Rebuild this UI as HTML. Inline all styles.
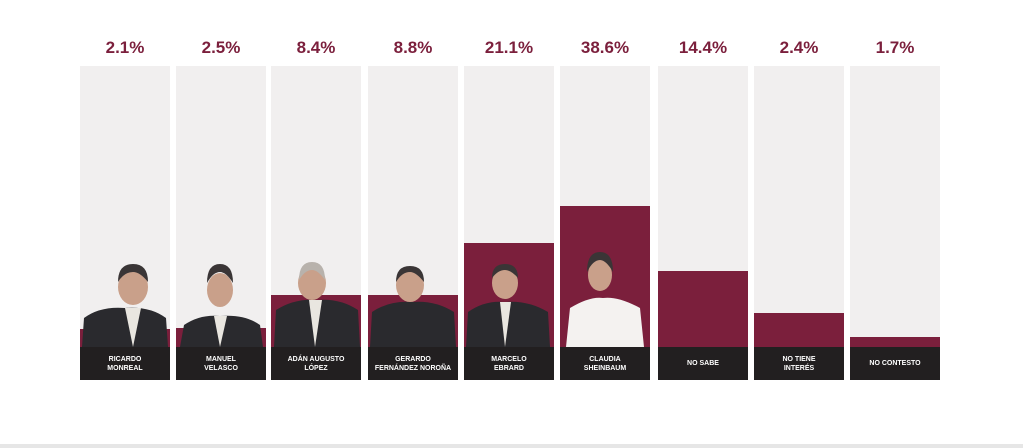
<!DOCTYPE html>
<html><head><meta charset="utf-8"><style>
body{margin:0;width:1023px;height:448px;background:#fff;overflow:hidden;position:relative;font-family:"Liberation Sans",sans-serif}
.col{position:absolute;top:66px;width:90px;height:281px;background:#f1efef}
.bar{position:absolute;left:0;right:0;bottom:0;background:#7b1f3c}
.lab{position:absolute;top:347px;width:90px;height:33px;background:#221f20;color:#fff;font-size:7px;font-weight:bold;display:flex;align-items:center;justify-content:center;text-align:center;line-height:9px}
.pct{position:absolute;top:38px;width:90px;text-align:center;color:#7b1f3c;font-weight:bold;font-size:17px}
.bot{position:absolute;left:0;right:0;top:444px;height:4px;background:#e6e6e6}
svg{position:absolute;left:0;top:0}
</style></head><body>
<div class="pct" style="left:80px">2.1%</div><div class="col" style="left:80px"><div class="bar" style="height:18px"></div></div><div class="lab" style="left:80px">RICARDO<br>MONREAL</div>
<div class="pct" style="left:176px">2.5%</div><div class="col" style="left:176px"><div class="bar" style="height:19px"></div></div><div class="lab" style="left:176px">MANUEL<br>VELASCO</div>
<div class="pct" style="left:271px">8.4%</div><div class="col" style="left:271px"><div class="bar" style="height:52px"></div></div><div class="lab" style="left:271px">ADÁN AUGUSTO<br>LÓPEZ</div>
<div class="pct" style="left:368px">8.8%</div><div class="col" style="left:368px"><div class="bar" style="height:52px"></div></div><div class="lab" style="left:368px">GERARDO<br>FERNÁNDEZ NOROÑA</div>
<div class="pct" style="left:464px">21.1%</div><div class="col" style="left:464px"><div class="bar" style="height:104px"></div></div><div class="lab" style="left:464px">MARCELO<br>EBRARD</div>
<div class="pct" style="left:560px">38.6%</div><div class="col" style="left:560px"><div class="bar" style="height:141px"></div></div><div class="lab" style="left:560px">CLAUDIA<br>SHEINBAUM</div>
<div class="pct" style="left:658px">14.4%</div><div class="col" style="left:658px"><div class="bar" style="height:76px"></div></div><div class="lab" style="left:658px">NO SABE</div>
<div class="pct" style="left:754px">2.4%</div><div class="col" style="left:754px"><div class="bar" style="height:34px"></div></div><div class="lab" style="left:754px">NO TIENE<br>INTERÉS</div>
<div class="pct" style="left:850px">1.7%</div><div class="col" style="left:850px"><div class="bar" style="height:10px"></div></div><div class="lab" style="left:850px">NO CONTESTO</div>
<svg width="1023" height="448">
<g fill="#2a2a2e">
<path d="M82 347 L84 318 Q100 306 125 308 Q150 306 166 318 L168 347Z"/>
<path d="M180 347 L184 325 Q200 314 220 316 Q245 314 260 325 L263 347Z"/>
<path d="M274 347 L276 310 Q295 298 317 300 Q340 298 358 310 L360 347Z"/>
<path d="M370 347 L372 312 Q390 300 412 302 Q435 300 454 312 L456 347Z"/>
<path d="M466 347 L468 312 Q485 300 505 302 Q528 300 548 312 L550 347Z"/>
</g>
<path d="M566 347 L570 308 Q590 296 603 298 Q618 296 640 308 L644 347Z" fill="#f4f2f0"/>
<g fill="#c9a08a">
<ellipse cx="133" cy="287" rx="15" ry="18"/><ellipse cx="220" cy="290" rx="13" ry="17"/>
<ellipse cx="312" cy="283" rx="14" ry="17"/><ellipse cx="410" cy="285" rx="14" ry="17"/>
<ellipse cx="505" cy="283" rx="13" ry="16"/><ellipse cx="600" cy="275" rx="12" ry="16"/>
</g>
<g fill="#e9e6e0"><path d="M125 308 L133 347 L141 308Z"/><path d="M214 316 L220 347 L227 316Z"/><path d="M309 300 L315 347 L322 300Z"/><path d="M500 302 L505 347 L511 302Z"/></g>
<g fill="#3a3536"><path d="M118 282 Q118 264 133 264 Q148 264 148 282 Q140 272 133 272 Q124 272 118 282Z"/><path d="M207 283 Q207 264 220 264 Q233 264 233 283 Q226 272 220 272 Q213 272 207 283Z"/><path d="M396 282 Q396 266 410 266 Q424 266 424 282 Q416 272 410 272 Q402 272 396 282Z"/><path d="M492 278 Q492 264 505 264 Q518 264 518 278 Q511 270 505 270 Q498 270 492 278Z"/><path d="M587 272 Q587 252 600 252 Q613 252 613 272 Q606 260 600 260 Q593 260 587 272Z"/></g>
<path d="M299 280 Q299 262 312 262 Q325 262 325 280 Q318 270 312 270 Q305 270 299 280Z" fill="#b8b2ac"/>
</svg>
<div class="bot"></div>
</body></html>
